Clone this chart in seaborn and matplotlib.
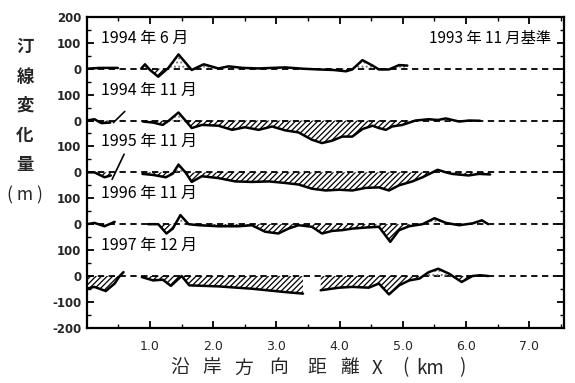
import numpy as np
import pandas as pd
import matplotlib
matplotlib.use("Agg")
import matplotlib.pyplot as plt
import seaborn as sns

NaN = np.nan

# ---- data (km, m) ----
series_labels = ["1994 年 6 月", "1994 年 11 月", "1995 年 11 月", "1996 年 11 月", "1997 年 12 月"]

jun94_x = [0.0, 0.2, 0.49, NaN, 0.86, 0.92, 1.0, 1.13, 1.29, 1.45, 1.66, 1.85, 2.08, 2.24, 2.47, 2.72,
           3.14, 3.41, 3.67, 3.9, 4.1, 4.2, 4.36, 4.52, 4.62, 4.78, 4.94, 5.07]
jun94_y = [0, 3, 3, NaN, 0, 17, -5, -31, 3, 55, -5, 17, 1, 9, 3, 1,
           5, 0, -3, -5, -10, -3, 33, 12, -3, -3, 14, 12]

nov94_x = [0.0, 0.12, 0.23, 0.37, NaN, 0.89, 1.05, 1.2, 1.3, 1.45, 1.56, 1.66, 1.82, 2.08, 2.3, 2.5,
           2.72, 2.93, 3.14, 3.35, 3.56, 3.72, 3.88, 4.04, 4.2, 4.36, 4.52, 4.62, 4.73, 4.83, 4.99,
           5.2, 5.41, 5.55, 5.68, 5.89, 6.05, 6.22]
nov94_y = [0, 5, -10, -8, NaN, -4, -8, -17, 0, 31, 0, -29, -17, -20, -36, -26,
           -36, -23, -38, -46, -74, -87, -78, -62, -62, -33, -20, -29, -36, -23, -17,
           0, 5, 2, 8, -4, 0, -1]

nov95_x = [0.0, 0.12, 0.28, 0.38, NaN, 0.88, 1.05, 1.25, 1.36, 1.45, 1.56, 1.66, 1.82, 2.08, 2.35,
           2.61, 2.88, 3.14, 3.35, 3.56, 3.78, 3.99, 4.2, 4.41, 4.62, 4.78, 4.94, 5.15, 5.31, 5.47,
           5.55, 5.68, 5.78, 6.04, 6.2, 6.38]
nov95_y = [0, 0, -19, -12, NaN, -6, -10, -19, -5, 30, 0, -37, -15, -22, -35,
           -37, -35, -41, -47, -63, -70, -67, -70, -60, -58, -70, -50, -35, -19, 0,
           10, 0, -6, -12, -6, -8]

nov96_x = [0.0, 0.12, 0.28, 0.44, NaN, 0.97, 1.13, 1.26, 1.36, 1.48, 1.61, 1.77, 2.08, 2.4, 2.61,
           2.82, 3.03, 3.19, 3.35, 3.56, 3.72, 3.88, 4.04, 4.2, 4.41, 4.62, 4.8, 4.94, 5.1, 5.31,
           5.5, 5.68, 5.89, 6.1, 6.25, 6.35]
nov96_y = [0, 5, -8, 9, NaN, 0, 0, -36, -17, 35, 0, -4, -8, -8, -4,
           -29, -36, -17, -4, -10, -36, -26, -23, -17, -13, -10, -68, -23, -8, 0,
           23, 5, -4, 3, 15, 0]

dec97_x = [0.0, 0.12, 0.3, 0.44, 0.52, 0.58, NaN, 0.87, 1.05, 1.2, 1.33, 1.5, 1.62, 2.08, 2.61,
           3.14, 3.42, NaN, 3.7, 3.99, 4.2, 4.46, 4.62, 4.78, 4.94, 5.1, 5.26, 5.41, 5.56, 5.73,
           5.93, 6.1, 6.22, 6.35]
dec97_y = [-49, -42, -58, -29, 0, 15, NaN, -4, -17, -14, -38, 0, -36, -40, -49,
           -62, -68, NaN, -55, -45, -42, -45, -29, -71, -36, -17, -10, 15, 28, 9,
           -23, 0, 3, 0]

series_x = [jun94_x, nov94_x, nov95_x, nov96_x, dec97_x]
series_y = [jun94_y, nov94_y, nov95_y, nov96_y, dec97_y]
offsets = [800, 600, 400, 200, 0]

ytick_vals = [-200, -100, 0, 100, 200, 300, 400, 500, 600, 700, 800, 900, 1000]
ytick_labels = ["-200", "-100", "0", "100", "0", "100", "0", "100", "0", "100", "0", "100", "200"]
xtick_vals = [1.0, 2.0, 3.0, 4.0, 5.0, 6.0, 7.0]
xtick_labels = ["1.0", "2.0", "3.0", "4.0", "5.0", "6.0", "7.0"]

xlabel_chars = ["沿", "岸", "方", "向", "距", "離", "X", "(", "km", ")"]
ylabel_chars = ["汀", "線", "変", "化", "量"]

# leader lines from labels (x km, value m)
leaders = {1: ([0.42, 0.6], [-8, 35]), 2: ([0.4, 0.59], [-27, 70])}

# ---- style ----
sns.set_theme(style="ticks")
plt.rcParams["font.family"] = ["Noto Sans CJK JP", "DejaVu Sans"]
plt.rcParams["hatch.linewidth"] = 0.9

fig = plt.figure(figsize=(5.75, 3.83), dpi=100)
ax = fig.add_axes([0.151, 0.144, 0.830, 0.812])

for i, (xs, ys) in enumerate(zip(series_x, series_y)):
    off = offsets[i]
    xs = np.array(xs, dtype=float)
    ys = np.array(ys, dtype=float)
    ax.axhline(off, color="black", lw=1.3, ls=(0, (3.5, 2.5)), zorder=1)
    seg = np.cumsum(np.isnan(xs))
    df = pd.DataFrame({"x": xs, "y": ys + off, "seg": seg}).dropna()
    for s, d in df.groupby("seg"):
        xx = d["x"].to_numpy()
        yy = d["y"].to_numpy()
        ax.fill_between(xx, off, yy, where=yy < off, interpolate=True,
                        facecolor="none", edgecolor="black", hatch="//////", lw=0, zorder=2)
        ax.fill_between(xx, off, yy, where=yy > off, interpolate=True,
                        facecolor="none", edgecolor="#777777", hatch="....", lw=0, zorder=2)
    sns.lineplot(data=df, x="x", y="y", units="seg", estimator=None, sort=False,
                 color="black", lw=1.8, ax=ax, zorder=3)
    ax.text(0.22, off + 118, series_labels[i], fontsize=11.5, ha="left", va="center",
            color="black")
    if i in leaders:
        lx, ly = leaders[i]
        ax.plot(lx, np.array(ly) + off, color="black", lw=1.2, zorder=3)

ax.text(7.35, 918, "1993 年 11 月基準", fontsize=11, ha="right", va="center", color="black")

ax.set_xlim(0, 7.55)
ax.set_ylim(-200, 1000)
ax.set_xticks(xtick_vals)
ax.set_xticklabels(xtick_labels, fontsize=9, family="DejaVu Sans")
ax.set_xticks(np.arange(0.5, 7.6, 0.5), minor=True)
ax.set_yticks(ytick_vals)
ax.set_yticklabels(ytick_labels, fontsize=8.5, family="DejaVu Sans", fontweight="bold")
ax.set_yticks(np.arange(-150, 1000, 100), minor=True)
ax.tick_params(which="both", direction="in", top=True, right=True, color="black")
ax.tick_params(which="major", length=5, width=1.3, pad=4)
ax.tick_params(which="minor", length=3, width=1.0)
ax.tick_params(axis="x", which="major", pad=9)
for sp in ax.spines.values():
    sp.set_linewidth(1.6)
    sp.set_color("black")
ax.set_xlabel("")
ax.set_ylabel("")

# y axis label (vertical characters)
for k, ch in enumerate(ylabel_chars):
    fig.text(25 / 575, 1 - (47 + k * 29.5) / 383, ch, fontsize=12.5, fontweight="bold",
             ha="center", va="center")
fig.text(25 / 575, 1 - 195 / 383, "( m )", fontsize=12.5, ha="center", va="center")

# x axis label (spaced characters)
xlabel_px = [180, 212, 244, 279, 317, 350, 377, 405, 430, 462]
for ch, px in zip(xlabel_chars, xlabel_px):
    fig.text(px / 575, 1 - 368 / 383, ch, fontsize=13.5, ha="center", va="center")

fig.savefig("out.png", dpi=100, facecolor="white")
